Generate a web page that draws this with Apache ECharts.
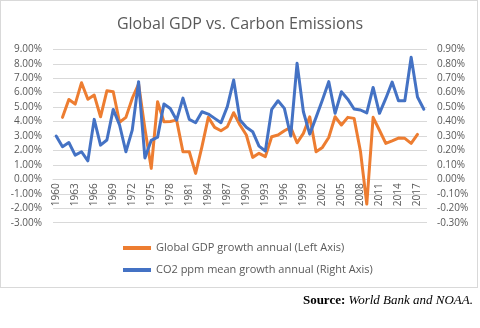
<!DOCTYPE html>
<html>
<head>
<meta charset="utf-8">
<script src="https://cdn.jsdelivr.net/npm/echarts@6/dist/echarts.min.js"></script>
<style>
  html, body { margin: 0; padding: 0; background: #fff; }
  #frame { position: absolute; left: 0; top: 0; width: 478px; height: 288px; border: 1px solid #d9d9d9; box-sizing: border-box; }
  #chart { position: absolute; left: 0; top: 0; width: 480px; height: 328px; }
  #source { position: absolute; right: 7px; top: 292px; font-family: "Liberation Serif", "DejaVu Serif", serif; font-size: 13px; color: #000; }
  #source b { font-weight: bold; }
  #source i { font-style: italic; }
</style>
</head>
<body>
<div id="frame"></div>
<div id="chart"></div>
<div id="source"><b>Source:</b> <i>World Bank and NOAA.</i></div>
<script>
// Years shown on the category axis
const years = [];
for (let y = 1960; y <= 2018; y++) years.push(String(y));

// Global GDP growth, annual % (left axis)
const gdpGrowth = [
  null, 4.29, 5.53, 5.21, 6.69, 5.54, 5.83, 4.33, 6.13, 6.06,
  3.95, 4.29, 5.60, 6.60, 3.50, 0.76, 5.37, 3.99, 4.00, 4.10,
  1.91, 1.91, 0.41, 2.26, 4.29, 3.60, 3.36, 3.64, 4.61, 3.76,
  3.07, 1.52, 1.80, 1.57, 2.95, 3.07, 3.36, 3.60, 2.53, 3.18,
  4.33, 1.91, 2.21, 2.90, 4.33, 3.76, 4.29, 4.22, 1.95, -1.71,
  4.29, 3.40, 2.49, 2.66, 2.86, 2.84, 2.49, 3.11, null
];

// CO2 ppm mean growth, annual % (right axis)
const co2Growth = [
  0.300, 0.226, 0.255, 0.168, 0.191, 0.128, 0.415, 0.237, 0.272, 0.484,
  0.376, 0.191, 0.341, 0.676, 0.148, 0.270, 0.292, 0.522, 0.490, 0.410,
  0.562, 0.415, 0.392, 0.468, 0.452, 0.422, 0.392, 0.503, 0.687, 0.410,
  0.360, 0.330, 0.230, 0.196, 0.484, 0.544, 0.491, 0.300, 0.803, 0.468,
  0.313, 0.429, 0.549, 0.676, 0.457, 0.606, 0.555, 0.487, 0.480, 0.460,
  0.636, 0.457, 0.560, 0.673, 0.544, 0.544, 0.845, 0.570, 0.485
];

const seriesNames = [
  'Global GDP growth annual (Left Axis)',
  'CO2 ppm mean growth annual (Right Axis)'
];

const textColor = '#595959';
const gridColor = '#d9d9d9';
const font = '"Open Sans", "Liberation Sans", sans-serif';

// Left axis range; the category axis sits on its zero line
const leftMin = -3, leftMax = 9;
const gridTop = 49.3, gridBottom = 105.3, chartHeight = 328;
const plotHeight = chartHeight - gridTop - gridBottom;
const zeroOffset = -plotHeight * (0 - leftMin) / (leftMax - leftMin);

const chart = echarts.init(document.getElementById('chart'), null, { renderer: 'canvas' });

chart.setOption({
  animation: false,
  backgroundColor: 'transparent',
  title: {
    text: 'Global GDP vs. Carbon Emissions',
    left: 'center',
    top: 11,
    textStyle: { fontFamily: font, fontSize: 16, fontWeight: 'normal', color: textColor }
  },
  legend: {
    orient: 'vertical',
    left: 118,
    top: 236,
    itemWidth: 28,
    itemHeight: 4,
    itemGap: 8,
    icon: 'rect',
    data: seriesNames,
    textStyle: { fontFamily: font, fontSize: 11, color: textColor, lineHeight: 14 }
  },
  grid: { left: 53, right: 53, top: gridTop, bottom: gridBottom, containLabel: false },
  xAxis: {
    type: 'category',
    data: years,
    boundaryGap: true,
    position: 'bottom',
    offset: zeroOffset,
    axisLine: { onZero: false, lineStyle: { color: gridColor, width: 1 } },
    axisTick: { show: false },
    axisLabel: {
      interval: 2,
      rotate: 90,
      margin: 4,
      fontFamily: font,
      fontSize: 10,
      color: textColor
    },
    splitLine: { show: false }
  },
  yAxis: [
    {
      type: 'value',
      min: leftMin,
      max: leftMax,
      interval: 1,
      axisLine: { show: false },
      axisTick: { show: false },
      axisLabel: {
        margin: 11,
        fontFamily: font,
        fontSize: 10,
        color: textColor,
        formatter: v => v.toFixed(2) + '%'
      },
      splitLine: { lineStyle: { color: gridColor, width: 1 } }
    },
    {
      type: 'value',
      min: -0.3,
      max: 0.9,
      interval: 0.1,
      axisLine: { show: false },
      axisTick: { show: false },
      axisLabel: {
        margin: 10,
        fontFamily: font,
        fontSize: 10,
        color: textColor,
        formatter: v => v.toFixed(2) + '%'
      },
      splitLine: { show: false }
    }
  ],
  series: [
    {
      name: seriesNames[0],
      type: 'line',
      yAxisIndex: 0,
      data: gdpGrowth,
      showSymbol: false,
      symbol: 'none',
      color: '#ed7d31',
      lineStyle: { width: 3, color: '#ed7d31', cap: 'round', join: 'round' },
      z: 2
    },
    {
      name: seriesNames[1],
      type: 'line',
      yAxisIndex: 1,
      data: co2Growth,
      showSymbol: false,
      symbol: 'none',
      color: '#4472c4',
      lineStyle: { width: 3, color: '#4472c4', cap: 'round', join: 'round' },
      z: 3
    }
  ]
});
</script>
</body>
</html>
